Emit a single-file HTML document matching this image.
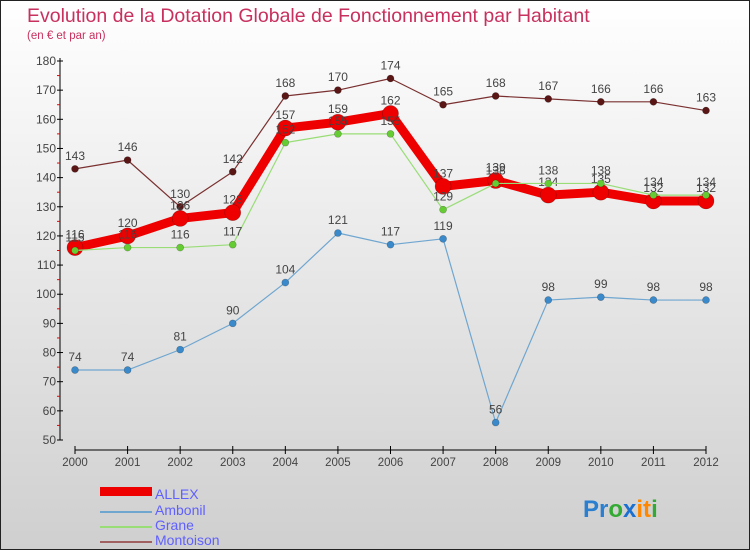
<!DOCTYPE html>
<html><head><meta charset="utf-8"><style>
body{margin:0}
svg{display:block;font-family:"Liberation Sans",sans-serif}
</style></head><body>
<svg id="c" width="750" height="550" xmlns="http://www.w3.org/2000/svg">
<defs><linearGradient id="bg" x1="0" y1="0" x2="0" y2="1"><stop offset="0" stop-color="#ffffff"/><stop offset="1" stop-color="#cfcfcf"/></linearGradient></defs>
<rect x="0.5" y="0.5" width="749" height="549" fill="url(#bg)" stroke="#222"/>
<text x="27" y="22" font-size="19.5" fill="#c8305e">Evolution de la Dotation Globale de Fonctionnement par Habitant</text>
<text x="27" y="39" font-size="11.5" fill="#c8305e">(en € et par an)</text>
<g id="axes"></g><g id="series"></g>
<g>
<rect x="100" y="487" width="52" height="9" fill="#e00"/>
<text x="155" y="499" font-size="14" fill="#6060ff">ALLEX</text>
<line x1="100" y1="512" x2="152" y2="512" stroke="#6fa6d0" stroke-width="2"/>
<text x="155" y="515" font-size="14" fill="#6060ff">Ambonil</text>
<line x1="100" y1="527" x2="152" y2="527" stroke="#99dd77" stroke-width="2"/>
<text x="155" y="530" font-size="14" fill="#6060ff">Grane</text>
<line x1="100" y1="542" x2="152" y2="542" stroke="#a06060" stroke-width="2"/>
<text x="155" y="545" font-size="14" fill="#6060ff">Montoison</text>
</g>
<text x="583" y="517" font-size="24" font-weight="bold"><tspan fill="#2a7fd0">Pr</tspan><tspan fill="#33aa33">o</tspan><tspan fill="#1a6fd0">x</tspan><tspan fill="#ff8800">it</tspan><tspan fill="#33aa33">i</tspan></text>
</svg>
<script>
const years=["2000","2001","2002","2003","2004","2005","2006","2007","2008","2009","2010","2011","2012"];
const yTicks=[50,60,70,80,90,100,110,120,130,140,150,160,170,180];
const allex=[116,120,126,128,157,159,162,137,139,134,135,132,132];
const ambonil=[74,74,81,90,104,121,117,119,56,98,99,98,98];
const grane=[115,116,116,117,152,155,155,129,138,138,138,134,134];
const montoison=[143,146,130,142,168,170,174,165,168,167,166,166,163];
const NS="http://www.w3.org/2000/svg";
const xs=i=>75+i*(706-75)/(years.length-1);
const ys=v=>440-(v-50)*(440-61)/130;
function mk(t,a,p){const e=document.createElementNS(NS,t);for(const k in a)e.setAttribute(k,a[k]);p.appendChild(e);return e;}
const ax=document.getElementById('axes');
let e=mk('line',{x1:60,y1:58,x2:60,y2:440,stroke:'#000','stroke-width':1},ax);


e=mk('line',{x1:75,y1:450,x2:706,y2:450,stroke:'#000','stroke-width':1},ax);


yTicks.forEach(v=>{
  mk('line',{x1:57,y1:ys(v),x2:63,y2:ys(v),stroke:'#000'},ax);
  if(v<180){const m=mk('line',{x1:57,y1:ys(v+5),x2:60,y2:ys(v+5),stroke:'#e00'},ax);}
  const t=mk('text',{x:56,y:ys(v)+4,'font-size':12,fill:'#444','text-anchor':'end'},ax);
  t.textContent=v;
  
  
});
years.forEach((y,i)=>{
  mk('line',{x1:xs(i),y1:446,x2:xs(i),y2:454,stroke:'#000'},ax);
  const t=mk('text',{x:xs(i),y:466,'font-size':11.5,fill:'#444','text-anchor':'middle'},ax);
  t.textContent=y;
  
  
});
const sg=document.getElementById('series');
function series(name,data,color,w,r,dot){
  const g=mk('g',{},sg);
  
  
  const pl=mk('polyline',{points:data.map((v,i)=>xs(i)+','+ys(v)).join(' '),fill:'none',stroke:color,'stroke-width':w,'stroke-linejoin':'round'},g);
  
  
  data.forEach((v,i)=>{
    const c=mk('circle',{cx:xs(i),cy:ys(v),r:r,fill:dot,stroke:'rgba(0,0,0,0.3)','stroke-width':0.6},g);
    
    
    const t=mk('text',{x:xs(i),y:ys(v)-9,'font-size':12,fill:'#444','text-anchor':'middle'},g);
    t.textContent=v;
    
    
  });
}
series('ambonil',ambonil,'#6fa6d0',1.2,3.5,'#3a8acb');
series('montoison',montoison,'#7a3030',1.2,3.5,'#5a1515');
series('allex',allex,'#ee0000',9,8,'#ee0000');
series('grane',grane,'#99dd77',1.2,3.5,'#66cc33');
</script>
</body></html>
